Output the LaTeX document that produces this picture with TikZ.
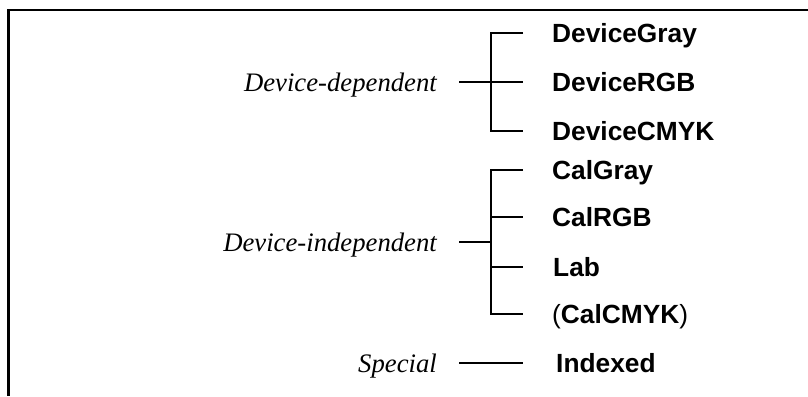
\documentclass[tikz,border=0pt]{standalone}
\usepackage{fontspec}
\setmainfont{Liberation Serif}
\setsansfont{Liberation Sans}
\begin{document}
\begin{tikzpicture}[x=1pt,y=-1pt,
  frame/.style={line width=2.6pt,line join=miter},
  link/.style={line width=2pt,line join=miter},
  space/.style={font=\sffamily\bfseries\fontsize{26.3}{31}\selectfont,inner sep=0pt,anchor=base west},
  family/.style={font=\itshape\fontsize{26.7}{32}\selectfont,inner sep=0pt,anchor=base east}]
\useasboundingbox (0,0) rectangle (808,396);

% open frame: top and left edges
\draw[frame] (808,10) -- (8.7,10) -- (8.7,396);

% --- device-dependent spaces ---
\coordinate (dj) at (491,82);
\coordinate (dgE) at (523,33);
\coordinate (drE) at (523,82);
\coordinate (dcE) at (523,131);
\coordinate (dS) at (459,82);
\node[family] (dep) at ([xshift=-22pt,yshift=-9pt]dS) {Device-dependent};
\node[space] (gray) at ([xshift=29pt,yshift=-9.5pt]dgE) {DeviceGray};
\node[space] (rgb) at ([xshift=29pt,yshift=-9.5pt]drE) {DeviceRGB};
\node[space] (cmyk) at ([xshift=29pt,yshift=-9.5pt]dcE) {DeviceCMYK};
\draw[link] (dgE) -- (dj |- dgE) -- (dj |- dcE) -- (dcE);
\draw[link] (dS) -- (drE);

% --- device-independent spaces ---
\coordinate (ij) at (491,242.3);
\coordinate (igE) at (523,170);
\coordinate (irE) at (523,216.7);
\coordinate (ilE) at (523,266.7);
\coordinate (icE) at (523,314);
\coordinate (iS) at (459,242.3);
\node[family] (indep) at ([xshift=-22pt,yshift=-9pt]iS) {Device-independent};
\node[space] (calgray) at ([xshift=29pt,yshift=-9.5pt]igE) {CalGray};
\node[space] (calrgb) at ([xshift=29pt,yshift=-9.5pt]irE) {CalRGB};
\node[space] (lab) at ([xshift=30pt,yshift=-9.5pt]ilE) {Lab};
\node[space] (calcmyk) at ([xshift=29pt,yshift=-9.5pt]icE) {{\mdseries(}CalCMYK{\mdseries)}};
\draw[link] (igE) -- (ij |- igE) -- (ij |- icE) -- (icE);
\draw[link] (iS) -- (ij);
\draw[link] (ij |- irE) -- (irE);
\draw[link] (ij |- ilE) -- (ilE);

% --- special spaces ---
\coordinate (sS) at (459,363.3);
\coordinate (sE) at (523,363.3);
\node[family] (special) at ([xshift=-22pt,yshift=-9pt]sS) {Special};
\node[space] (indexed) at ([xshift=33pt,yshift=-9.5pt]sE) {Indexed};
\draw[link] (sS) -- (sE);
\end{tikzpicture}
\end{document}
